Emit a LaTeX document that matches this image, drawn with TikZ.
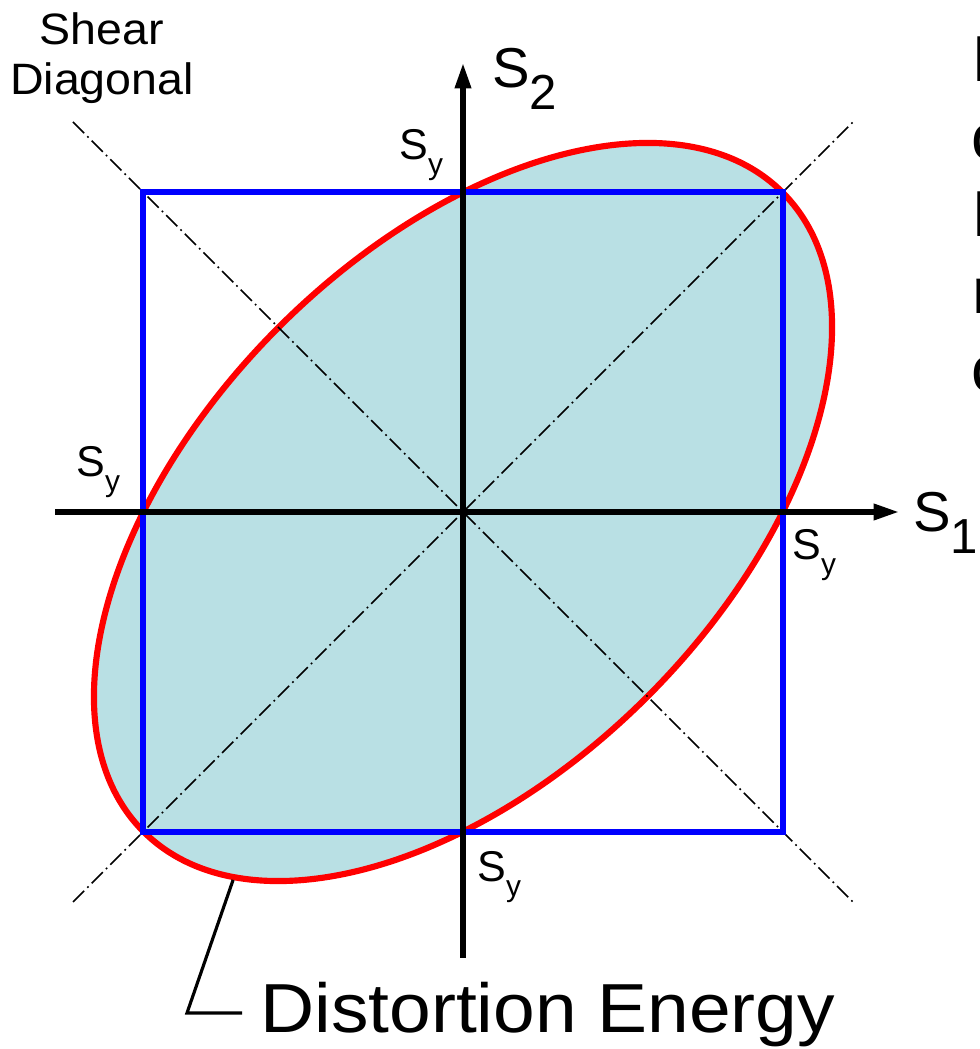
\documentclass[tikz,border=0pt]{standalone}
\usepackage{fontspec}
\setmainfont{Liberation Sans}
\usetikzlibrary{arrows.meta,shapes.geometric}
\definecolor{fillblue}{RGB}{185,224,228}
\newcommand\mySy{S\raisebox{-8pt}{\fontsize{17}{17}\selectfont y}}
\newcommand\hs[1]{\scalebox{1.06}[1]{#1}}
\begin{document}
\begin{tikzpicture}[x=0.02cm,y=0.02cm,
  shearline/.style={black,line width=0.9pt,dash pattern=on 9pt off 2.5pt on 1pt off 2.5pt},
  axisline/.style={black,line width=3.6pt,-{Triangle[length=15pt,width=8.5pt]}},
  boxline/.style={blue,line width=3.2pt},
  lbl/.style={anchor=base west,inner sep=0pt,font=\fontsize{24.5}{24.5}\selectfont},
  big/.style={anchor=base west,inner sep=0pt,font=\fontsize{32}{32}\selectfont},
  edge/.style={anchor=base west,inner sep=0pt,font=\fontsize{37}{37}\selectfont}]
\useasboundingbox (0,0) rectangle (980,1049);
\clip (0,0) rectangle (980,1049);
\coordinate (O) at (463,537);
% ellipse
\node[ellipse,rotate=45,minimum width=18.08cm,minimum height=10.44cm,inner sep=0pt,
  fill=fillblue,draw=red,line width=3.5pt] (ell) at (O) {};
% shear diagonals
\coordinate (d1a) at (73,927); \coordinate (d1b) at (853,147);
\coordinate (d2a) at (73,147); \coordinate (d2b) at (853,927);
\draw[shearline] (d1a) -- (d1b);
\draw[shearline] (d2a) -- (d2b);
% square
\coordinate (sqll) at (143,217); \coordinate (squr) at (783,857);
\draw[boxline] (sqll) rectangle (squr);
% axes
\coordinate (xa) at (55,537); \coordinate (xb) at (900,537);
\coordinate (ya) at (463,91); \coordinate (yb) at (463,987);
\draw[axisline] (xa) -- (xb);
\draw[axisline] (ya) -- (yb);
% labels
\node[lbl] (syl) at (76,572) {\mySy};
\node[lbl] (syr) at (792,489) {\mySy};
\node[lbl] (syt) at (399,889) {\mySy};
\node[lbl] (syb) at (477,167) {\mySy};
\node[big] (s2) at (492,961) {S\raisebox{-12pt}{\fontsize{28}{28}\selectfont 2}};
\node[big] (s1) at (913,517) {S\raisebox{-12pt}{\fontsize{28}{28}\selectfont 1}};
\node[anchor=base,inner sep=0pt,font=\fontsize{25}{25}\selectfont] (shear) at (102,1004) {\hs{Shear}};
\node[anchor=base,inner sep=0pt,font=\fontsize{25}{25}\selectfont] (diag) at (102,954) {\hs{Diagonal}};
% distortion energy label
\node[anchor=base west,inner xsep=0.36cm,inner ysep=0pt,font=\fontsize{39.5}{39.5}\selectfont] (de) at (242,16) {\scalebox{1.08}[1]{Distortion Energy}};
\coordinate (elbow) at (187,36);
\draw[black,line width=1.8pt] (ell.193) -- (elbow) -- (elbow -| de.west);
% clipped text at right edge
\node[edge] (r1) at (972,967) {E};
\node[edge] (r2) at (971,889) {c};
\node[edge] (r3) at (972,812) {E};
\node[edge] (r4) at (972,735) {n};
\node[edge] (r5) at (971,657) {c};
\end{tikzpicture}
\end{document}
